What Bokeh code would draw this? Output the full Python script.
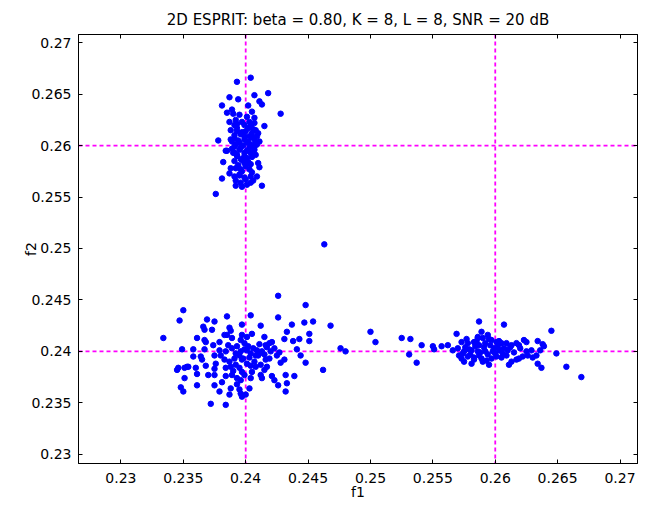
from bokeh.plotting import figure
from bokeh.models import Span, LinearAxis, FixedTicker, Range1d
from bokeh.embed import file_html
from bokeh.resources import INLINE

title_text = "2D ESPRIT: beta = 0.80, K = 8, L = 8, SNR = 20 dB"
x_label = "f1"
y_label = "f2"
tick_values = [0.23, 0.235, 0.24, 0.245, 0.25, 0.255, 0.26, 0.265, 0.27]
tick_labels = ["0.23", "0.235", "0.24", "0.245", "0.25", "0.255", "0.26", "0.265", "0.27"]
true_f1 = [0.24, 0.26]
true_f2 = [0.24, 0.26]

# cluster near (0.24, 0.26)
c1_f1 = [0.2404, 0.2393, 0.2418, 0.2407, 0.2387, 0.2394, 0.2411, 0.2413, 0.2381, 0.2402,
         0.2389, 0.2405, 0.2385, 0.2390, 0.2428, 0.2395, 0.2401, 0.2407, 0.2387,
         0.2392, 0.2397, 0.2403, 0.2407, 0.2391, 0.2399, 0.2404, 0.2415, 0.2408, 0.2388,
         0.2393, 0.2400, 0.2405, 0.2396, 0.2403, 0.2409, 0.2391, 0.2399, 0.2407, 0.2389,
         0.2395, 0.2401, 0.2408, 0.2378, 0.2384, 0.2385, 0.2391, 0.2396, 0.2403, 0.2407,
         0.2391, 0.2399, 0.2404, 0.2393, 0.2401, 0.2397, 0.2382, 0.2391, 0.2399, 0.2404,
         0.2392, 0.2396, 0.2403, 0.2411, 0.2387, 0.2391, 0.2395, 0.2399, 0.2404, 0.2409,
         0.2381, 0.2392, 0.2396, 0.2404, 0.2400, 0.2397, 0.2413, 0.2376,
         0.2393, 0.2402, 0.2397, 0.2406, 0.2391, 0.2399, 0.2405, 0.2394, 0.2402, 0.2409,
         0.2392, 0.2398, 0.2404, 0.2389, 0.2395, 0.2401, 0.2407, 0.2393, 0.2399, 0.2405,
         0.2396, 0.2402, 0.2394, 0.2400, 0.2397, 0.2405, 0.2393, 0.2410, 0.2388, 0.2411,
         0.2390, 0.2408, 0.2395, 0.2401, 0.2392, 0.2406, 0.2388, 0.2410]
c1_f2 = [0.2666, 0.2662, 0.2651, 0.2649, 0.2647, 0.2645, 0.2643, 0.2640, 0.2639, 0.2639,
         0.2635, 0.2633, 0.2632, 0.2631, 0.2631, 0.2630, 0.2628, 0.2627, 0.2623,
         0.2625, 0.2623, 0.2623, 0.2622, 0.2620, 0.2620, 0.2619, 0.2619, 0.2615, 0.2615,
         0.2614, 0.2614, 0.2612, 0.2611, 0.2609, 0.2609, 0.2607, 0.2606, 0.2606, 0.2604,
         0.2603, 0.2603, 0.2603, 0.2605, 0.2595, 0.2595, 0.2599, 0.2598, 0.2598, 0.2599,
         0.2593, 0.2593, 0.2593, 0.2590, 0.2588, 0.2586, 0.2584, 0.2585, 0.2583, 0.2582,
         0.2578, 0.2577, 0.2577, 0.2579, 0.2573, 0.2570, 0.2572, 0.2569, 0.2570, 0.2570,
         0.2568, 0.2566, 0.2564, 0.2564, 0.2567, 0.2560, 0.2561, 0.2553,
         0.2621, 0.2617, 0.2613, 0.2616, 0.2610, 0.2609, 0.2608, 0.2605, 0.2604, 0.2601,
         0.2601, 0.2600, 0.2601, 0.2597, 0.2596, 0.2595, 0.2596, 0.2591, 0.2590, 0.2589,
         0.2587, 0.2584, 0.2581, 0.2580, 0.2575, 0.2574, 0.2617, 0.2612, 0.2606, 0.2604,
         0.2593, 0.2591, 0.2571, 0.2562, 0.2561, 0.2566, 0.2578, 0.2583]

# cluster near (0.24, 0.24)
c2_f1 = [0.2350, 0.2347, 0.2334, 0.2369, 0.2375, 0.2385, 0.2397, 0.2366, 0.2367, 0.2373,
         0.2361, 0.2367, 0.2368, 0.2387, 0.2388, 0.2385, 0.2389, 0.2383, 0.2397, 0.2396,
         0.2399, 0.2379, 0.2349, 0.2358, 0.2367, 0.2374, 0.2379, 0.2384, 0.2389, 0.2393,
         0.2396, 0.2358, 0.2364, 0.2365, 0.2375, 0.2383, 0.2387, 0.2391, 0.2395, 0.2397,
         0.2345, 0.2346, 0.2351, 0.2353, 0.2354, 0.2360, 0.2368, 0.2375, 0.2384, 0.2388,
         0.2392, 0.2395, 0.2397, 0.2351, 0.2361, 0.2375, 0.2384, 0.2389, 0.2393, 0.2396,
         0.2348, 0.2350, 0.2361, 0.2375, 0.2379, 0.2388, 0.2395, 0.2396, 0.2397, 0.2387,
         0.2372, 0.2384, 0.2400,
         0.2426, 0.2448, 0.2404, 0.2426, 0.2454, 0.2447, 0.2468, 0.2412, 0.2437, 0.2433,
         0.2405, 0.2401, 0.2415, 0.2451, 0.2431, 0.2438, 0.2443, 0.2451, 0.2421, 0.2419,
         0.2416, 0.2441, 0.2444, 0.2448, 0.2462, 0.2411, 0.2408, 0.2404, 0.2401, 0.2425,
         0.2419, 0.2416, 0.2431, 0.2428, 0.2408, 0.2412, 0.2417, 0.2415, 0.2412, 0.2413,
         0.2421, 0.2423, 0.2432, 0.2439, 0.2426, 0.2433, 0.2432, 0.2403, 0.2405, 0.2404,
         0.2402, 0.2406, 0.2409, 0.2403, 0.2407, 0.2401, 0.2410, 0.2413, 0.2399, 0.2404,
         0.2398, 0.2411, 0.2417, 0.2420, 0.2423, 0.2427, 0.2415, 0.2392, 0.2386, 0.2380,
         0.2376, 0.2390, 0.2399, 0.2393, 0.2370, 0.2381,
         0.2463, 0.2500, 0.2504, 0.2476, 0.2480]
c2_f2 = [0.2440, 0.2430, 0.2413, 0.2431, 0.2429, 0.2434, 0.2426, 0.2424, 0.2421, 0.2421,
         0.2413, 0.2411, 0.2409, 0.2423, 0.2420, 0.2416, 0.2413, 0.2416, 0.2416, 0.2411,
         0.2408, 0.2409, 0.2402, 0.2402, 0.2402, 0.2406, 0.2401, 0.2400, 0.2403, 0.2405,
         0.2400, 0.2395, 0.2395, 0.2392, 0.2396, 0.2392, 0.2390, 0.2393, 0.2396, 0.2392,
         0.2382, 0.2384, 0.2384, 0.2385, 0.2385, 0.2384, 0.2386, 0.2383, 0.2384, 0.2385,
         0.2387, 0.2384, 0.2380, 0.2374, 0.2378, 0.2377, 0.2376, 0.2377, 0.2374, 0.2372,
         0.2365, 0.2361, 0.2367, 0.2367, 0.2361, 0.2364, 0.2363, 0.2359, 0.2356, 0.2358,
         0.2349, 0.2348, 0.2358,
         0.2454, 0.2445, 0.2435, 0.2433, 0.2429, 0.2428, 0.2425, 0.2425, 0.2426, 0.2419,
         0.2417, 0.2414, 0.2414, 0.2417, 0.2412, 0.2410, 0.2412, 0.2410, 0.2409, 0.2408,
         0.2406, 0.2402, 0.2396, 0.2389, 0.2382, 0.2398, 0.2396, 0.2398, 0.2401, 0.2396,
         0.2393, 0.2392, 0.2392, 0.2389, 0.2385, 0.2387, 0.2385, 0.2382, 0.2377, 0.2374,
         0.2376, 0.2372, 0.2377, 0.2376, 0.2367, 0.2369, 0.2361, 0.2364, 0.2380, 0.2374,
         0.2405, 0.2403, 0.2401, 0.2394, 0.2390, 0.2388, 0.2396, 0.2400, 0.2402, 0.2386,
         0.2393, 0.2407, 0.2404, 0.2400, 0.2403, 0.2399, 0.2397, 0.2398, 0.2406, 0.2396,
         0.2388, 0.2381, 0.2377, 0.2368, 0.2377, 0.2370,
         0.2504, 0.2419, 0.2409, 0.2403, 0.2400]

# cluster near (0.26, 0.24)
c3_f1 = [0.2525, 0.2532, 0.2531, 0.2537, 0.2541, 0.2550, 0.2551, 0.2557, 0.2562, 0.2569,
         0.2566, 0.2573, 0.2578, 0.2583, 0.2587, 0.2570, 0.2575, 0.2581, 0.2586, 0.2573,
         0.2578, 0.2583, 0.2575, 0.2581, 0.2586, 0.2589,
         0.2587, 0.2607, 0.2645, 0.2586, 0.2590, 0.2594, 0.2597, 0.2601, 0.2605, 0.2609,
         0.2613, 0.2617, 0.2619, 0.2623, 0.2625, 0.2634, 0.2638, 0.2639, 0.2636, 0.2649,
         0.2657, 0.2669, 0.2634, 0.2637, 0.2625, 0.2629, 0.2633, 0.2630, 0.2626, 0.2617,
         0.2619, 0.2622, 0.2611, 0.2613, 0.2595, 0.2590, 0.2587, 0.2592, 0.2598, 0.2601,
         0.2606, 0.2609, 0.2603,
         0.2576, 0.2580, 0.2584, 0.2588, 0.2591, 0.2594, 0.2596, 0.2599, 0.2602, 0.2604,
         0.2607, 0.2610, 0.2612, 0.2615, 0.2589, 0.2593, 0.2597, 0.2600, 0.2585, 0.2592,
         0.2579, 0.2574, 0.2571, 0.2583, 0.2605, 0.2620, 0.2577, 0.2595, 0.2603]
c3_f2 = [0.2413, 0.2412, 0.2397, 0.2389, 0.2406, 0.2405, 0.2402, 0.2405, 0.2406, 0.2417,
         0.2401, 0.2409, 0.2408, 0.2409, 0.2406, 0.2403, 0.2400, 0.2401, 0.2400, 0.2393,
         0.2395, 0.2392, 0.2390, 0.2388, 0.2413, 0.2419,
         0.2429, 0.2426, 0.2420, 0.2414, 0.2413, 0.2416, 0.2411, 0.2409, 0.2408, 0.2408,
         0.2406, 0.2408, 0.2406, 0.2411, 0.2409, 0.2410, 0.2407, 0.2405, 0.2401, 0.2398,
         0.2385, 0.2375, 0.2388, 0.2384, 0.2400, 0.2401, 0.2396, 0.2394, 0.2396, 0.2392,
         0.2393, 0.2395, 0.2387, 0.2390, 0.2387, 0.2390, 0.2396, 0.2400, 0.2400, 0.2395,
         0.2398, 0.2396, 0.2401,
         0.2404, 0.2397, 0.2405, 0.2399, 0.2404, 0.2397, 0.2406, 0.2403, 0.2405, 0.2401,
         0.2403, 0.2401, 0.2404, 0.2399, 0.2393, 0.2391, 0.2393, 0.2398, 0.2410, 0.2408,
         0.2402, 0.2398, 0.2396, 0.2394, 0.2394, 0.2403, 0.2412, 0.2412, 0.2410]

FONT = "DejaVu Sans"

p = figure(width=646, height=505, output_backend="svg", toolbar_location=None,
           x_range=Range1d(0.2266, 0.2714), y_range=Range1d(0.2291, 0.2708),
           min_border_left=78, min_border_right=9, min_border_top=34, min_border_bottom=42)
p.background_fill_color = "white"
p.border_fill_color = "white"
p.outline_line_color = "black"
p.xgrid.visible = False
p.ygrid.visible = False

p.title.text = title_text
p.title.align = "center"
p.title.text_font = FONT
p.title.text_font_size = "15px"
p.title.text_font_style = "normal"
p.title.text_color = "black"
p.title.standoff = 11
p.title.offset = 9

overrides = {v: s for v, s in zip(tick_values, tick_labels)}

def style_axis(ax, show_labels, label=None, label_standoff=0, tick_standoff=7):
    ax.ticker = FixedTicker(ticks=tick_values)
    ax.major_tick_in = 4
    ax.major_tick_out = 0
    ax.minor_tick_line_color = None
    ax.axis_line_color = "black"
    ax.major_tick_line_color = "black"
    ax.major_label_overrides = overrides
    ax.major_label_text_font = FONT
    ax.major_label_text_font_size = "14px"
    ax.major_label_text_color = "black"
    if not show_labels:
        ax.major_label_text_alpha = 0
        ax.major_label_text_font_size = "1px"
        ax.major_label_standoff = 0
    else:
        ax.major_label_standoff = tick_standoff
    if label:
        ax.axis_label = label
        ax.axis_label_text_font = FONT
        ax.axis_label_text_font_size = "14px"
        ax.axis_label_text_font_style = "normal"
        ax.axis_label_text_color = "black"
        ax.axis_label_standoff = label_standoff

style_axis(p.xaxis[0], True, x_label, -2, 9)
style_axis(p.yaxis[0], True, y_label, -11, 7)
top_ax = LinearAxis()
right_ax = LinearAxis()
style_axis(top_ax, False)
style_axis(right_ax, False)
p.add_layout(top_ax, "above")
p.add_layout(right_ax, "right")

for v in true_f1:
    p.add_layout(Span(location=v, dimension="height", line_color="#ff00ff",
                      line_dash="4 3", line_width=1.8, level="underlay"))
for v in true_f2:
    p.add_layout(Span(location=v, dimension="width", line_color="#ff00ff",
                      line_dash="4 3", line_width=1.8, level="underlay"))

for xs, ys in [(c1_f1, c1_f2), (c2_f1, c2_f2), (c3_f1, c3_f2)]:
    p.scatter(xs, ys, size=5.5, color="#0000ff", line_color="#0000ff")

open("out.html", "w").write(file_html(p, INLINE))
